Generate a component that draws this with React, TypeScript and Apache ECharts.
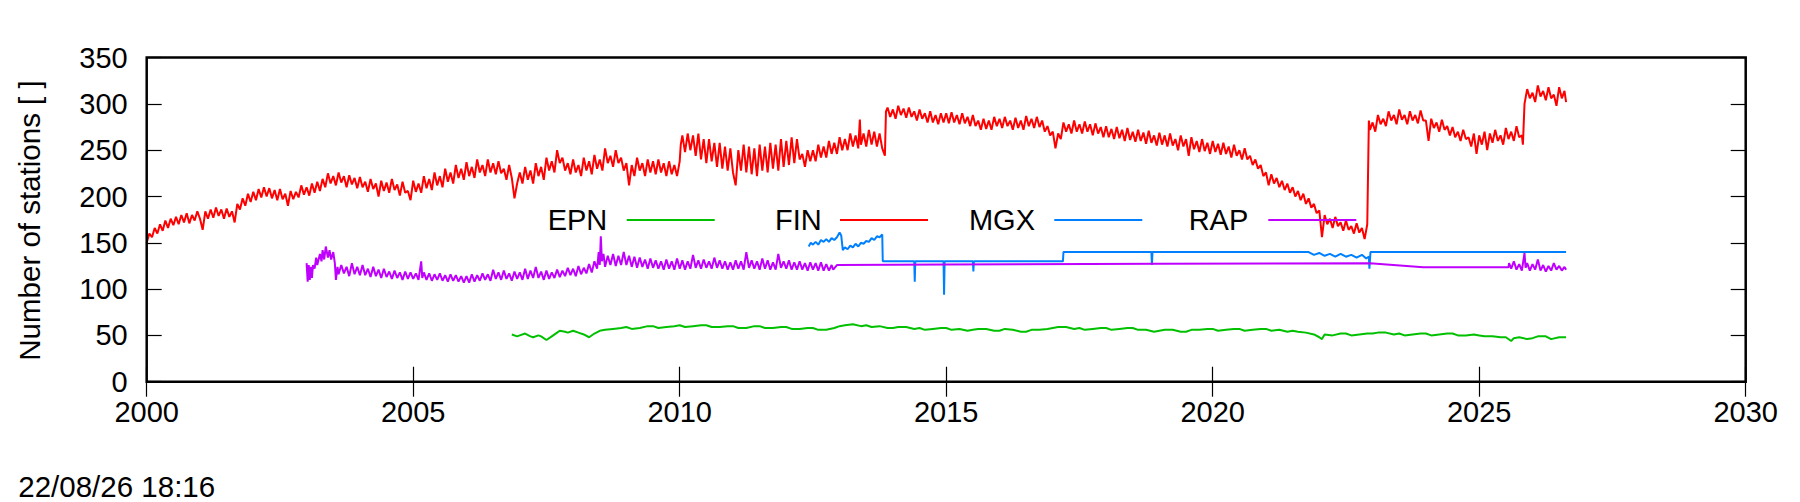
import React, { useEffect, useRef } from "react";
import * as echarts from "echarts";

// ---- data: [decimal year, number of stations] ----
const EPN: [number, number][] = [
  [2006.85, 51], [2006.95, 49], [2007.0, 50], [2007.1, 52], [2007.2, 49], [2007.25, 48], [2007.35, 50], [2007.4, 49],
  [2007.5, 45], [2007.6, 49], [2007.7, 53], [2007.75, 55], [2007.85, 54], [2007.9, 53], [2008.0, 55], [2008.1, 53],
  [2008.2, 51], [2008.3, 48], [2008.4, 52], [2008.5, 55], [2008.6, 56], [2008.75, 57], [2008.9, 58], [2009.0, 59],
  [2009.1, 57], [2009.25, 58], [2009.4, 60], [2009.5, 60], [2009.6, 58], [2009.75, 59], [2009.9, 60], [2010.0, 61],
  [2010.1, 59], [2010.25, 60], [2010.4, 61], [2010.5, 61], [2010.6, 59], [2010.75, 59], [2010.9, 60], [2011.0, 60],
  [2011.1, 58], [2011.25, 58], [2011.4, 60], [2011.5, 60], [2011.6, 58], [2011.75, 58], [2011.9, 59], [2012.0, 59],
  [2012.1, 57], [2012.25, 57], [2012.4, 58], [2012.5, 58], [2012.6, 56], [2012.75, 56], [2012.9, 58], [2013.0, 60],
  [2013.1, 61], [2013.25, 62], [2013.4, 60], [2013.5, 61], [2013.6, 59], [2013.75, 60], [2013.9, 58], [2014.0, 58],
  [2014.1, 59], [2014.25, 59], [2014.4, 57], [2014.5, 58], [2014.6, 56], [2014.75, 57], [2014.9, 58], [2015.0, 58],
  [2015.1, 56], [2015.25, 57], [2015.4, 55], [2015.5, 56], [2015.6, 57], [2015.75, 57], [2015.9, 55], [2016.0, 55],
  [2016.1, 57], [2016.25, 56], [2016.4, 54], [2016.5, 54], [2016.6, 56], [2016.75, 56], [2016.9, 57], [2017.0, 58],
  [2017.1, 59], [2017.25, 59], [2017.4, 57], [2017.5, 58], [2017.6, 56], [2017.75, 57], [2017.9, 58], [2018.0, 58],
  [2018.1, 56], [2018.25, 57], [2018.4, 58], [2018.5, 58], [2018.6, 56], [2018.75, 56], [2018.9, 54], [2019.0, 55],
  [2019.1, 56], [2019.25, 56], [2019.4, 54], [2019.5, 54], [2019.6, 56], [2019.75, 56], [2019.9, 57], [2020.0, 57],
  [2020.1, 55], [2020.25, 56], [2020.4, 57], [2020.5, 57], [2020.6, 55], [2020.75, 56], [2020.9, 57], [2021.0, 57],
  [2021.1, 55], [2021.25, 56], [2021.4, 54], [2021.5, 55], [2021.6, 54], [2021.75, 53], [2021.9, 51], [2022.0, 48],
  [2022.05, 46], [2022.1, 51], [2022.25, 50], [2022.4, 52], [2022.5, 52], [2022.6, 50], [2022.75, 51], [2022.9, 52],
  [2023.0, 52], [2023.1, 53], [2023.25, 53], [2023.4, 51], [2023.5, 52], [2023.6, 50], [2023.75, 51], [2023.9, 52],
  [2024.0, 52], [2024.1, 50], [2024.25, 51], [2024.4, 52], [2024.5, 52], [2024.6, 50], [2024.75, 50], [2024.9, 51],
  [2025.0, 50], [2025.1, 49], [2025.25, 49], [2025.4, 48], [2025.5, 48], [2025.6, 44], [2025.65, 47], [2025.75, 48],
  [2025.9, 46], [2026.0, 47], [2026.1, 49], [2026.25, 49], [2026.35, 46], [2026.5, 48], [2026.63, 48],
];

const FIN: [number, number][] = [
  [2000.0, 150], [2000.05, 160], [2000.1, 156], [2000.15, 166], [2000.2, 160], [2000.25, 170], [2000.3, 163], [2000.35, 174],
  [2000.4, 166], [2000.45, 176], [2000.5, 169], [2000.55, 178], [2000.6, 170], [2000.65, 180], [2000.7, 172], [2000.75, 182],
  [2000.8, 171], [2000.85, 180], [2000.9, 174], [2000.95, 184],
  [2001.0, 176], [2001.05, 164], [2001.1, 184], [2001.15, 176], [2001.2, 186], [2001.25, 177], [2001.3, 188], [2001.35, 179],
  [2001.4, 186], [2001.45, 176], [2001.5, 187], [2001.55, 178], [2001.6, 184], [2001.65, 172], [2001.7, 192], [2001.75, 186],
  [2001.8, 198], [2001.85, 190], [2001.9, 203], [2001.95, 194],
  [2002.0, 205], [2002.05, 196], [2002.1, 208], [2002.15, 199], [2002.2, 210], [2002.25, 200], [2002.3, 209], [2002.35, 198],
  [2002.4, 207], [2002.45, 196], [2002.5, 208], [2002.55, 197], [2002.6, 203], [2002.65, 190], [2002.7, 206], [2002.75, 197],
  [2002.8, 205], [2002.85, 199], [2002.9, 212], [2002.95, 202],
  [2003.0, 210], [2003.05, 201], [2003.1, 214], [2003.15, 204], [2003.2, 216], [2003.25, 206], [2003.3, 219], [2003.35, 210],
  [2003.4, 225], [2003.45, 214], [2003.5, 222], [2003.55, 212], [2003.6, 226], [2003.65, 215], [2003.7, 222], [2003.75, 210],
  [2003.8, 223], [2003.85, 213], [2003.9, 220], [2003.95, 209],
  [2004.0, 221], [2004.05, 210], [2004.1, 216], [2004.15, 205], [2004.2, 219], [2004.25, 208], [2004.3, 214], [2004.35, 200],
  [2004.4, 217], [2004.45, 206], [2004.5, 215], [2004.55, 204], [2004.6, 219], [2004.65, 207], [2004.7, 213], [2004.75, 201],
  [2004.8, 216], [2004.85, 204], [2004.9, 206], [2004.95, 196],
  [2005.0, 217], [2005.05, 205], [2005.1, 214], [2005.15, 204], [2005.2, 222], [2005.25, 209], [2005.3, 219], [2005.35, 207],
  [2005.4, 226], [2005.45, 212], [2005.5, 222], [2005.55, 210], [2005.6, 230], [2005.65, 216], [2005.7, 226], [2005.75, 214],
  [2005.8, 234], [2005.85, 220], [2005.9, 230], [2005.95, 218],
  [2006.0, 237], [2006.05, 222], [2006.1, 232], [2006.15, 220], [2006.2, 240], [2006.25, 226], [2006.3, 234], [2006.35, 222],
  [2006.4, 240], [2006.45, 226], [2006.5, 236], [2006.55, 224], [2006.6, 238], [2006.65, 225], [2006.7, 230], [2006.75, 218],
  [2006.8, 234], [2006.85, 220], [2006.9, 198], [2006.95, 214],
  [2007.0, 226], [2007.05, 214], [2007.1, 232], [2007.15, 218], [2007.2, 228], [2007.25, 214], [2007.3, 236], [2007.35, 222],
  [2007.4, 232], [2007.45, 218], [2007.5, 242], [2007.55, 228], [2007.6, 238], [2007.65, 226], [2007.7, 250], [2007.75, 236],
  [2007.8, 242], [2007.85, 228], [2007.9, 236], [2007.95, 224],
  [2008.0, 240], [2008.05, 226], [2008.1, 234], [2008.15, 222], [2008.2, 242], [2008.25, 228], [2008.3, 238], [2008.35, 224],
  [2008.4, 245], [2008.45, 230], [2008.5, 240], [2008.55, 228], [2008.6, 252], [2008.65, 236], [2008.7, 244], [2008.75, 232],
  [2008.8, 250], [2008.85, 236], [2008.9, 242], [2008.95, 228],
  [2009.0, 236], [2009.05, 212], [2009.1, 234], [2009.15, 222], [2009.2, 242], [2009.25, 228], [2009.3, 236], [2009.35, 222],
  [2009.4, 240], [2009.45, 226], [2009.5, 238], [2009.55, 224], [2009.6, 240], [2009.65, 226], [2009.7, 236], [2009.75, 222],
  [2009.8, 238], [2009.85, 224], [2009.9, 234], [2009.95, 222],
  [2010.0, 238], [2010.02, 256], [2010.05, 266], [2010.1, 248], [2010.15, 268], [2010.2, 250], [2010.25, 266], [2010.3, 244],
  [2010.35, 268], [2010.4, 240], [2010.45, 262], [2010.5, 236], [2010.55, 262], [2010.6, 238], [2010.65, 258], [2010.7, 232],
  [2010.75, 258], [2010.8, 230], [2010.85, 254], [2010.9, 228], [2010.95, 252],
  [2011.0, 226], [2011.05, 212], [2011.1, 250], [2011.15, 228], [2011.2, 256], [2011.25, 226], [2011.3, 254], [2011.35, 224],
  [2011.4, 252], [2011.45, 222], [2011.5, 256], [2011.55, 228], [2011.6, 254], [2011.65, 226], [2011.7, 258], [2011.75, 230],
  [2011.8, 256], [2011.85, 228], [2011.9, 262], [2011.95, 232],
  [2012.0, 260], [2012.05, 234], [2012.1, 264], [2012.15, 236], [2012.2, 262], [2012.25, 240], [2012.3, 246], [2012.35, 232],
  [2012.4, 250], [2012.45, 238], [2012.5, 250], [2012.55, 238], [2012.6, 256], [2012.65, 242], [2012.7, 254], [2012.75, 242],
  [2012.8, 260], [2012.85, 246], [2012.9, 258], [2012.95, 246],
  [2013.0, 264], [2013.05, 250], [2013.1, 262], [2013.15, 250], [2013.2, 268], [2013.25, 254], [2013.3, 266], [2013.35, 252],
  [2013.38, 283], [2013.4, 256], [2013.45, 268], [2013.5, 254], [2013.55, 272], [2013.6, 256], [2013.65, 270], [2013.7, 254],
  [2013.75, 268], [2013.8, 252], [2013.85, 244], [2013.87, 292], [2013.9, 296], [2013.95, 286],
  [2014.0, 294], [2014.05, 284], [2014.1, 298], [2014.15, 288], [2014.2, 295], [2014.25, 285], [2014.3, 296], [2014.35, 286],
  [2014.4, 292], [2014.45, 282], [2014.5, 294], [2014.55, 284], [2014.6, 290], [2014.65, 280], [2014.7, 292], [2014.75, 280],
  [2014.8, 288], [2014.85, 278], [2014.9, 290], [2014.95, 280],
  [2015.0, 290], [2015.05, 279], [2015.1, 291], [2015.15, 280], [2015.2, 288], [2015.25, 278], [2015.3, 290], [2015.35, 279],
  [2015.4, 286], [2015.45, 276], [2015.5, 288], [2015.55, 276], [2015.6, 282], [2015.65, 272], [2015.7, 284], [2015.75, 273],
  [2015.8, 282], [2015.85, 272], [2015.9, 286], [2015.95, 276],
  [2016.0, 284], [2016.05, 274], [2016.1, 286], [2016.15, 276], [2016.2, 282], [2016.25, 272], [2016.3, 285], [2016.35, 274],
  [2016.4, 282], [2016.45, 272], [2016.5, 287], [2016.55, 276], [2016.6, 284], [2016.65, 274], [2016.7, 286], [2016.75, 275],
  [2016.8, 282], [2016.85, 270], [2016.9, 276], [2016.95, 266],
  [2017.0, 270], [2017.05, 252], [2017.1, 268], [2017.15, 262], [2017.2, 280], [2017.25, 270], [2017.3, 278], [2017.35, 268],
  [2017.4, 282], [2017.45, 270], [2017.5, 278], [2017.55, 268], [2017.6, 281], [2017.65, 270], [2017.7, 278], [2017.75, 266],
  [2017.8, 279], [2017.85, 268], [2017.9, 275], [2017.95, 264],
  [2018.0, 276], [2018.05, 264], [2018.1, 273], [2018.15, 262], [2018.2, 275], [2018.25, 263], [2018.3, 272], [2018.35, 260],
  [2018.4, 274], [2018.45, 261], [2018.5, 270], [2018.55, 259], [2018.6, 272], [2018.65, 260], [2018.7, 269], [2018.75, 257],
  [2018.8, 271], [2018.85, 258], [2018.9, 266], [2018.95, 255],
  [2019.0, 269], [2019.05, 256], [2019.1, 266], [2019.15, 254], [2019.2, 268], [2019.25, 255], [2019.3, 262], [2019.35, 250],
  [2019.4, 266], [2019.45, 254], [2019.5, 262], [2019.55, 244], [2019.6, 264], [2019.65, 251], [2019.7, 260], [2019.75, 248],
  [2019.8, 262], [2019.85, 249], [2019.9, 258], [2019.95, 246],
  [2020.0, 260], [2020.05, 248], [2020.1, 257], [2020.15, 245], [2020.2, 258], [2020.25, 246], [2020.3, 254], [2020.35, 242],
  [2020.4, 256], [2020.45, 244], [2020.5, 250], [2020.55, 240], [2020.6, 252], [2020.65, 240], [2020.7, 244], [2020.75, 234],
  [2020.8, 240], [2020.85, 230], [2020.9, 234], [2020.95, 222],
  [2021.0, 226], [2021.05, 212], [2021.1, 224], [2021.15, 214], [2021.2, 220], [2021.25, 210], [2021.3, 217], [2021.35, 207],
  [2021.4, 214], [2021.45, 204], [2021.5, 210], [2021.55, 200], [2021.6, 206], [2021.65, 196], [2021.7, 203], [2021.75, 192],
  [2021.8, 198], [2021.85, 188], [2021.9, 192], [2021.95, 182],
  [2022.0, 185], [2022.05, 156], [2022.1, 180], [2022.15, 170], [2022.2, 176], [2022.25, 166], [2022.3, 178], [2022.35, 168],
  [2022.4, 172], [2022.45, 163], [2022.5, 174], [2022.55, 164], [2022.6, 168], [2022.65, 160], [2022.7, 171], [2022.75, 161],
  [2022.8, 166], [2022.85, 154], [2022.9, 170], [2022.93, 282], [2022.95, 272],
  [2023.0, 280], [2023.05, 270], [2023.1, 288], [2023.15, 278], [2023.2, 284], [2023.25, 276], [2023.3, 292], [2023.35, 282],
  [2023.4, 288], [2023.45, 278], [2023.5, 294], [2023.55, 283], [2023.6, 288], [2023.65, 278], [2023.7, 292], [2023.75, 282],
  [2023.8, 288], [2023.85, 279], [2023.9, 293], [2023.95, 282],
  [2024.0, 282], [2024.05, 260], [2024.1, 284], [2024.15, 274], [2024.2, 280], [2024.25, 270], [2024.3, 283], [2024.35, 272],
  [2024.4, 276], [2024.45, 266], [2024.5, 275], [2024.55, 264], [2024.6, 270], [2024.65, 260], [2024.7, 272], [2024.75, 262],
  [2024.8, 264], [2024.85, 254], [2024.9, 268], [2024.95, 246],
  [2025.0, 266], [2025.05, 256], [2025.1, 270], [2025.15, 250], [2025.2, 268], [2025.25, 258], [2025.3, 272], [2025.35, 260],
  [2025.4, 266], [2025.45, 256], [2025.5, 274], [2025.55, 262], [2025.6, 270], [2025.65, 260], [2025.7, 276], [2025.75, 264],
  [2025.8, 266], [2025.82, 256], [2025.85, 300], [2025.9, 316], [2025.95, 306],
  [2026.0, 312], [2026.05, 302], [2026.1, 320], [2026.15, 308], [2026.2, 314], [2026.25, 304], [2026.3, 318], [2026.35, 306],
  [2026.4, 310], [2026.45, 298], [2026.5, 318], [2026.55, 306], [2026.6, 314], [2026.63, 302],
];

const MGX: [number, number][] = [
  [2012.42, 146], [2012.46, 150], [2012.5, 148], [2012.55, 151], [2012.6, 148], [2012.65, 153], [2012.7, 151],
  [2012.75, 154], [2012.8, 151], [2012.85, 155], [2012.9, 153], [2012.95, 156], [2013.0, 161], [2013.03, 158],
  [2013.06, 142], [2013.1, 145], [2013.15, 143], [2013.2, 147], [2013.25, 145], [2013.3, 149], [2013.35, 146],
  [2013.4, 150], [2013.45, 149], [2013.5, 152], [2013.55, 151], [2013.6, 155], [2013.65, 153], [2013.7, 157],
  [2013.75, 156], [2013.8, 159], [2013.81, 130], [2014.4, 130], [2014.41, 108], [2014.42, 130], [2014.95, 130],
  [2014.96, 94], [2014.97, 130], [2015.5, 130], [2015.51, 119], [2015.52, 130], [2017.19, 130], [2017.2, 140],
  [2018.85, 140], [2018.86, 126], [2018.87, 140], [2021.8, 140], [2021.9, 137], [2022.0, 139], [2022.1, 136],
  [2022.2, 138], [2022.3, 135], [2022.4, 138], [2022.5, 135], [2022.6, 137], [2022.7, 134], [2022.8, 137],
  [2022.88, 133], [2022.93, 135], [2022.94, 122], [2022.96, 140], [2026.63, 140],
];

const RAP: [number, number][] = [
  [2003.0, 128], [2003.02, 108], [2003.04, 126], [2003.06, 110], [2003.08, 124], [2003.1, 112], [2003.12, 126],
  [2003.15, 122], [2003.18, 134], [2003.2, 126], [2003.25, 138], [2003.28, 130], [2003.3, 142], [2003.33, 132],
  [2003.36, 146], [2003.4, 134], [2003.43, 142], [2003.46, 132], [2003.5, 140], [2003.53, 128], [2003.55, 110],
  [2003.58, 124], [2003.6, 116], [2003.65, 126], [2003.7, 117], [2003.75, 124], [2003.8, 114], [2003.85, 128],
  [2003.9, 116], [2003.95, 124],
  [2004.0, 115], [2004.05, 126], [2004.1, 115], [2004.15, 122], [2004.2, 113], [2004.25, 124], [2004.3, 114],
  [2004.35, 121], [2004.4, 112], [2004.45, 122], [2004.5, 113], [2004.55, 119], [2004.6, 111], [2004.65, 120],
  [2004.7, 112], [2004.75, 118], [2004.8, 110], [2004.85, 119], [2004.9, 111], [2004.95, 118],
  [2005.0, 111], [2005.05, 117], [2005.1, 110], [2005.15, 130], [2005.17, 112], [2005.2, 118], [2005.25, 110],
  [2005.3, 117], [2005.35, 109], [2005.4, 116], [2005.45, 110], [2005.5, 117], [2005.55, 109], [2005.6, 115],
  [2005.65, 108], [2005.7, 116], [2005.75, 109], [2005.8, 115], [2005.85, 108], [2005.9, 114], [2005.95, 107],
  [2006.0, 114], [2006.05, 107], [2006.1, 116], [2006.15, 108], [2006.2, 115], [2006.25, 109], [2006.3, 117],
  [2006.35, 110], [2006.4, 116], [2006.45, 109], [2006.5, 121], [2006.55, 111], [2006.6, 118], [2006.65, 110],
  [2006.7, 120], [2006.75, 111], [2006.8, 117], [2006.85, 109], [2006.9, 119], [2006.95, 111],
  [2007.0, 118], [2007.05, 110], [2007.1, 122], [2007.15, 111], [2007.2, 120], [2007.25, 112], [2007.3, 124],
  [2007.35, 112], [2007.4, 119], [2007.45, 110], [2007.5, 120], [2007.55, 111], [2007.6, 118], [2007.65, 112],
  [2007.7, 121], [2007.75, 113], [2007.8, 120], [2007.85, 114], [2007.9, 123], [2007.95, 115],
  [2008.0, 122], [2008.05, 114], [2008.1, 125], [2008.15, 116], [2008.2, 123], [2008.25, 117], [2008.3, 127],
  [2008.35, 118], [2008.4, 130], [2008.45, 122], [2008.48, 140], [2008.5, 126], [2008.52, 157], [2008.54, 130],
  [2008.57, 138], [2008.6, 124], [2008.65, 136], [2008.7, 126], [2008.75, 138], [2008.8, 125], [2008.85, 136],
  [2008.9, 126], [2008.95, 140],
  [2009.0, 126], [2009.05, 136], [2009.1, 124], [2009.15, 135], [2009.2, 123], [2009.25, 134], [2009.3, 124],
  [2009.35, 132], [2009.4, 122], [2009.45, 133], [2009.5, 123], [2009.55, 131], [2009.6, 122], [2009.65, 130],
  [2009.7, 121], [2009.75, 132], [2009.8, 122], [2009.85, 130], [2009.9, 121], [2009.95, 133],
  [2010.0, 122], [2010.05, 131], [2010.1, 121], [2010.15, 130], [2010.2, 122], [2010.25, 137], [2010.3, 123],
  [2010.35, 131], [2010.4, 122], [2010.45, 132], [2010.5, 123], [2010.55, 130], [2010.6, 122], [2010.65, 134],
  [2010.7, 123], [2010.75, 131], [2010.8, 122], [2010.85, 130], [2010.9, 121], [2010.95, 129],
  [2011.0, 121], [2011.05, 131], [2011.1, 122], [2011.15, 130], [2011.2, 121], [2011.25, 140], [2011.3, 123],
  [2011.35, 131], [2011.4, 122], [2011.45, 130], [2011.5, 121], [2011.55, 133], [2011.6, 122], [2011.65, 131],
  [2011.7, 121], [2011.75, 129], [2011.8, 121], [2011.85, 138], [2011.9, 123], [2011.95, 130],
  [2012.0, 122], [2012.05, 131], [2012.1, 121], [2012.15, 129], [2012.2, 121], [2012.25, 130], [2012.3, 121],
  [2012.35, 128], [2012.4, 120], [2012.45, 129], [2012.5, 121], [2012.55, 128], [2012.6, 120], [2012.65, 129],
  [2012.7, 120], [2012.75, 127], [2012.8, 120], [2012.85, 126], [2012.88, 121], [2012.95, 126],
  [2015.0, 126.5], [2019.0, 127.5], [2022.95, 128], [2023.95, 123.5], [2025.55, 123.5],
  [2025.56, 128], [2025.6, 122], [2025.65, 130], [2025.7, 121], [2025.75, 127], [2025.8, 120], [2025.85, 139],
  [2025.87, 123], [2025.9, 128], [2025.95, 120], [2026.0, 127], [2026.05, 121], [2026.1, 132], [2026.15, 120],
  [2026.2, 126], [2026.25, 119], [2026.3, 125], [2026.35, 120], [2026.4, 128], [2026.45, 121], [2026.5, 125],
  [2026.55, 120], [2026.6, 124], [2026.63, 121],
];

const SERIES_NAMES = ["EPN", "FIN", "MGX", "RAP"];
const SERIES_DATA = [EPN, FIN, MGX, RAP];
const COLORS = ["#00c000", "#ff0000", "#0080ff", "#c000ff"];

const X_MIN = 2000;
const X_MAX = 2030;
const X_STEP = 5;
const Y_MIN = 0;
const Y_MAX = 350;
const Y_STEP = 50;

const Y_TITLE = "Number of stations [ ]";
const TIMESTAMP = "22/08/26 18:16";

const FONT = "'Liberation Sans', Arial, Helvetica, sans-serif";

export default function App() {
  const ref = useRef<HTMLDivElement>(null);

  useEffect(() => {
    document.body.style.margin = "0";
    if (!ref.current) return;
    const chart = echarts.init(ref.current, undefined, { renderer: "svg" });

    const gridLeft = 146.7;
    const gridTop = 57.6;
    const gridRight = 1800 - 1745.7;
    const gridBottom = 502 - 381.7;

    const tick = { show: true, inside: true, length: 15, lineStyle: { color: "#000", width: 1.2 } };

    // legend layout (gnuplot-style: right-aligned text, then sample line)
    const legendTextRight = [607.3, 821.7, 1035, 1248.3];
    const legendLineStart = [626.7, 840, 1054.3, 1268.3];
    const legendLineLen = 88;
    const legendY = 220;

    const legendGraphics: any[] = [];
    SERIES_NAMES.forEach((name, i) => {
      legendGraphics.push({
        type: "text",
        x: legendTextRight[i],
        y: legendY,
        z: 100,
        style: {
          text: name,
          fill: "#000",
          fontSize: 29,
          fontFamily: FONT,
          textAlign: "right",
          textVerticalAlign: "middle",
          align: "right",
          verticalAlign: "middle",
        },
      });
      legendGraphics.push({
        type: "line",
        z: 100,
        shape: { x1: legendLineStart[i], y1: legendY, x2: legendLineStart[i] + legendLineLen, y2: legendY },
        style: { stroke: COLORS[i], lineWidth: 2 },
      });
    });

    chart.setOption({
      animation: false,
      backgroundColor: "#fff",
      textStyle: { fontFamily: FONT },
      grid: {
        left: gridLeft,
        top: gridTop,
        right: gridRight,
        bottom: gridBottom,
        show: true,
        borderColor: "#000",
        borderWidth: 2.5,
        backgroundColor: "transparent",
        z: 10,
      },
      xAxis: [
        {
          type: "value",
          min: X_MIN,
          max: X_MAX,
          interval: X_STEP,
          position: "bottom",
          axisLine: { show: false },
          axisTick: tick,
          splitLine: { show: false },
          axisLabel: {
            color: "#000",
            fontSize: 29,
            fontFamily: FONT,
            margin: 16,
            formatter: (v: number) => String(Math.round(v)),
          },
        },
        {
          type: "value",
          min: X_MIN,
          max: X_MAX,
          interval: X_STEP,
          position: "top",
          axisLine: { show: false },
          axisTick: tick,
          splitLine: { show: false },
          axisLabel: { show: false },
        },
      ],
      yAxis: [
        {
          type: "value",
          min: Y_MIN,
          max: Y_MAX,
          interval: Y_STEP,
          position: "left",
          axisLine: { show: false },
          axisTick: tick,
          splitLine: { show: false },
          axisLabel: { color: "#000", fontSize: 29, fontFamily: FONT, margin: 19 },
        },
        {
          type: "value",
          min: Y_MIN,
          max: Y_MAX,
          interval: Y_STEP,
          position: "right",
          axisLine: { show: false },
          axisTick: tick,
          splitLine: { show: false },
          axisLabel: { show: false },
        },
      ],
      series: SERIES_NAMES.map((name, i) => ({
        name,
        type: "line",
        xAxisIndex: 0,
        yAxisIndex: 0,
        data: SERIES_DATA[i],
        showSymbol: false,
        symbol: "none",
        lineStyle: { color: COLORS[i], width: 2 },
        itemStyle: { color: COLORS[i] },
        z: 2 + i,
        clip: true,
      })),
      graphic: [
        {
          type: "text",
          x: 29.3,
          y: 220.5,
          rotation: Math.PI / 2,
          style: {
            text: Y_TITLE,
            fill: "#000",
            fontSize: 29.5,
            fontFamily: FONT,
            textAlign: "center",
            textVerticalAlign: "middle",
            align: "center",
            verticalAlign: "middle",
          },
        },
        {
          type: "text",
          x: 18.3,
          y: 486.5,
          style: {
            text: TIMESTAMP,
            fill: "#000",
            fontSize: 29.5,
            fontFamily: FONT,
            textAlign: "left",
            textVerticalAlign: "middle",
            align: "left",
            verticalAlign: "middle",
          },
        },
        ...legendGraphics,
      ],
    });

    return () => chart.dispose();
  }, []);

  return <div ref={ref} style={{ width: 1800, height: 502 }} />;
}
